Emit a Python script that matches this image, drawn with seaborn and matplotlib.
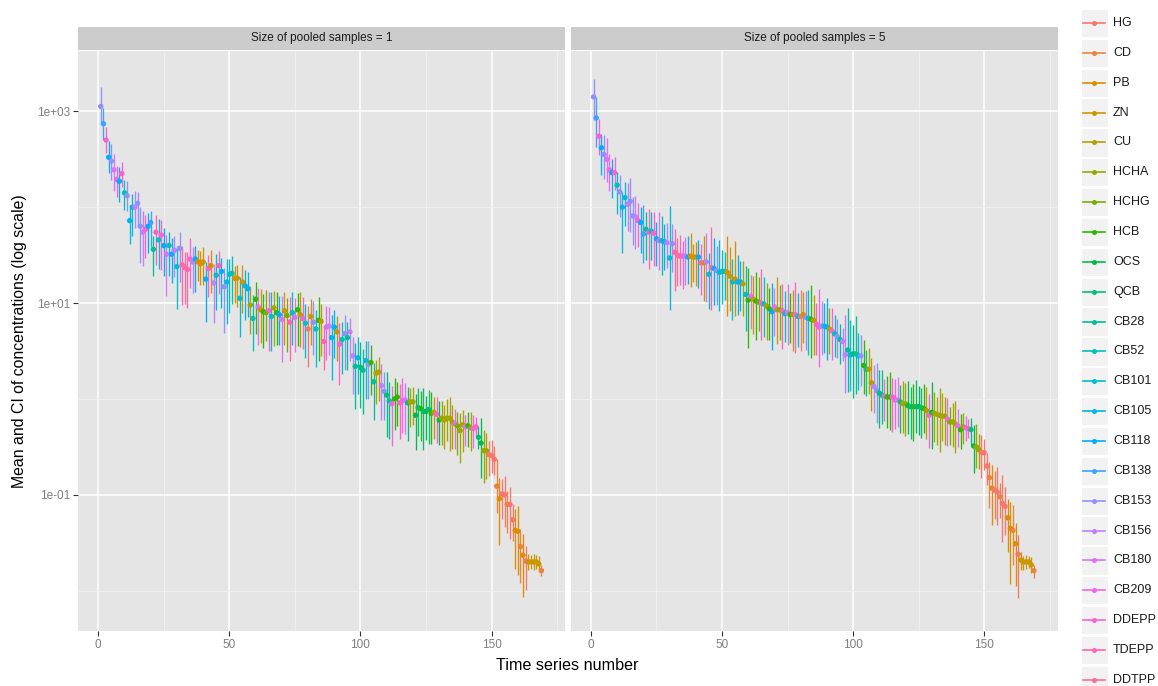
import numpy as np
import pandas as pd
import matplotlib
matplotlib.use("Agg")
import matplotlib.pyplot as plt
from matplotlib.patches import Rectangle
from matplotlib.lines import Line2D
from matplotlib.ticker import FixedLocator, FixedFormatter
import seaborn as sns

# ---------------------------------------------------------------- data
compounds = ["HG", "CD", "PB", "ZN", "CU", "HCHA", "HCHG", "HCB", "OCS", "QCB",
             "CB28", "CB52", "CB101", "CB105", "CB118", "CB138", "CB153",
             "CB156", "CB180", "CB209", "DDEPP", "TDEPP", "DDTPP"]

# compound of each time series, in rank order (shared by both panels)
series_compound = (
    "CB153 CB138 DDEPP CB118 CB153 CB180 CB209 CB118 DDEPP CB52 "
    "CB153 CB105 CB101 CB156 CB153 CB153 CB156 DDEPP CB118 CB138 "
    "CB28 TDEPP CB101 DDEPP CB118 CB180 CB52 CB118 CB156 CB101 "
    "CB153 TDEPP DDTPP TDEPP DDEPP CB156 CB118 PB PB ZN "
    "CB118 DDEPP PB CB156 CB101 TDEPP CB118 CB153 CB101 CB101 "
    "CB52 PB ZN CB101 PB CB105 CB118 CU CB52 HCB "
    "CB180 ZN HCB HCHG DDEPP CB101 CU HCB CB118 CB180 "
    "ZN HCHG TDEPP CB52 CB180 HCB CU DDEPP CB101 HG "
    "ZN CB153 CB101 HCB CU TDEPP CB209 CB156 CB105 CB118 "
    "CU DDEPP CB52 CB153 CB28 CB156 CB156 CB28 CB105 QCB "
    "CB28 CB101 CB153 HCB CB28 CU CU CB156 CB153 QCB "
    "CB28 CB209 HCB HCB DDEPP CB209 CB180 QCB CU HCHA "
    "OCS QCB HCB QCB OCS QCB HCB CU DDEPP OCS "
    "HCHA CU HCHA CU HCHA CB209 HCHG HCHA CU CB180 "
    "HCB HCHA CB209 DDEPP QCB OCS HCHA HCHA HG HG "
    "HG CD PB HG HG CD HG HG PB PB "
    "CD PB HG ZN ZN ZN ZN ZN CD"
).split()

# log10 of the mean concentration, pooled size = 1
log_mean_1 = [
    3.05, 2.87, 2.70, 2.52, 2.48, 2.39, 2.29, 2.27, 2.35, 2.15,
    2.12, 1.86, 2.00, 2.00, 2.04, 1.80, 1.74, 1.77, 1.80, 1.84,
    1.56, 1.74, 1.66, 1.71, 1.60, 1.51, 1.60, 1.51, 1.55, 1.38,
    1.57, 1.40, 1.37, 1.35, 1.46, 1.43, 1.46, 1.43, 1.41, 1.43,
    1.25, 1.36, 1.39, 1.21, 1.29, 1.39, 1.33, 1.17, 1.22, 1.30,
    1.31, 1.26, 1.26, 1.05, 1.22, 1.18, 1.15, 0.98, 0.84, 1.04,
    0.96, 0.93, 0.91, 0.90, 0.92, 0.86, 0.95, 0.90, 0.88, 0.83,
    0.92, 0.87, 0.80, 0.90, 0.85, 0.93, 0.88, 0.84, 0.79, 0.73,
    0.86, 0.80, 0.73, 0.82, 0.81, 0.60, 0.75, 0.76, 0.64, 0.75,
    0.70, 0.57, 0.62, 0.68, 0.64, 0.70, 0.45, 0.34, 0.43, 0.33,
    0.30, 0.40, 0.36, 0.38, 0.18, 0.27, 0.28, 0.14, 0.08, 0.04,
    -0.02, -0.05, 0.00, 0.02, -0.04, -0.02, -0.01, -0.04, -0.03, -0.03,
    -0.17, -0.09, -0.10, -0.13, -0.13, -0.11, -0.15, -0.14, -0.16, -0.22,
    -0.20, -0.22, -0.20, -0.20, -0.24, -0.26, -0.28, -0.33, -0.27, -0.29,
    -0.28, -0.30, -0.31, -0.29, -0.40, -0.46, -0.54, -0.54, -0.58, -0.59,
    -0.63, -0.91, -1.04, -0.99, -1.00, -1.10, -1.10, -1.26, -1.37, -1.38,
    -1.54, -1.63, -1.69, -1.70, -1.70, -1.70, -1.70, -1.72, -1.79]

# upper / lower CI half-lengths in hundredths of a decade, pooled size = 1
ci_up_1 = [
    20, 16, 14, 17, 18, 16, 14, 15, 12, 13, 15, 16, 14, 17, 12, 20, 22, 15, 14, 12,
    14, 18, 22, 16, 18, 20, 14, 17, 15, 22, 17, 20, 16, 18, 22, 15, 14, 12, 13, 15,
    18, 14, 16, 20, 22, 15, 14, 20, 24, 16, 18, 13, 14, 22, 18, 16, 17, 20, 24, 18,
    20, 22, 18, 24, 20, 26, 18, 22, 19, 24, 20, 18, 26, 22, 20, 18, 24, 22, 20, 24,
    18, 22, 20, 24, 18, 16, 22, 20, 24, 18, 16, 22, 18, 20, 16, 14, 20, 24, 22, 26,
    22, 20, 24, 18, 20, 14, 16, 22, 20, 24, 20, 18, 22, 16, 20, 24, 18, 16, 14, 15,
    22, 20, 18, 24, 16, 20, 22, 16, 18, 20, 18, 16, 20, 22, 18, 16, 14, 18, 16, 12,
    14, 16, 14, 10, 12, 26, 22, 18, 14, 16, 14, 28, 22, 16, 20, 14, 18, 16, 22, 26,
    18, 22, 16, 8, 7, 8, 7, 8, 6]
ci_dn_1 = [
    18, 17, 14, 16, 20, 22, 18, 22, 14, 18, 16, 24, 30, 22, 24, 38, 35, 30, 28, 26,
    28, 34, 30, 36, 32, 44, 32, 30, 28, 44, 35, 42, 38, 40, 30, 32, 34, 20, 22, 24,
    45, 30, 28, 42, 36, 30, 38, 48, 44, 40, 32, 26, 30, 40, 32, 36, 30, 30, 34, 36,
    40, 35, 38, 30, 42, 36, 40, 34, 32, 44, 36, 38, 40, 34, 36, 38, 34, 32, 36, 40,
    30, 34, 40, 42, 36, 30, 34, 30, 44, 32, 30, 42, 36, 38, 34, 30, 40, 44, 38, 42,
    46, 40, 36, 34, 40, 32, 30, 36, 30, 44, 40, 44, 32, 30, 38, 34, 36, 40, 26, 24,
    36, 30, 34, 40, 30, 36, 32, 28, 30, 26, 28, 30, 24, 34, 28, 26, 30, 34, 28, 20,
    22, 24, 20, 10, 12, 36, 34, 30, 22, 18, 16, 28, 48, 26, 34, 30, 36, 22, 40, 46,
    38, 44, 30, 8, 7, 8, 7, 8, 6]

# log10 of the mean concentration, pooled size = 5
log_mean_5 = [
    3.15, 2.93, 2.74, 2.62, 2.55, 2.50, 2.39, 2.36, 2.36, 2.23,
    2.16, 2.00, 2.10, 2.03, 2.06, 1.91, 1.90, 1.86, 1.84, 1.72,
    1.77, 1.74, 1.75, 1.73, 1.67, 1.65, 1.65, 1.64, 1.63, 1.47,
    1.62, 1.53, 1.50, 1.49, 1.49, 1.49, 1.48, 1.49, 1.48, 1.48,
    1.48, 1.42, 1.42, 1.43, 1.30, 1.37, 1.36, 1.34, 1.32, 1.33,
    1.33, 1.32, 1.28, 1.22, 1.25, 1.22, 1.22, 1.20, 1.09, 1.03,
    1.07, 1.04, 1.02, 1.01, 1.00, 0.99, 0.97, 0.94, 0.91, 0.96,
    0.93, 0.93, 0.92, 0.89, 0.90, 0.88, 0.88, 0.88, 0.86, 0.86,
    0.88, 0.85, 0.84, 0.83, 0.82, 0.78, 0.75, 0.76, 0.76, 0.75,
    0.73, 0.71, 0.68, 0.65, 0.62, 0.60, 0.46, 0.51, 0.46, 0.47,
    0.47, 0.45, 0.45, 0.35, 0.31, 0.31, 0.17, 0.13, 0.09, 0.06,
    0.04, 0.03, 0.02, 0.02, 0.02, -0.01, -0.01, -0.03, -0.05, -0.05,
    -0.07, -0.08, -0.08, -0.08, -0.08, -0.09, -0.10, -0.12, -0.17, -0.14,
    -0.15, -0.16, -0.17, -0.18, -0.18, -0.21, -0.24, -0.24, -0.26, -0.28,
    -0.32, -0.29, -0.30, -0.31, -0.32, -0.49, -0.50, -0.53, -0.56, -0.56,
    -0.70, -0.82, -0.93, -0.95, -0.97, -1.02, -1.09, -1.12, -1.24, -1.35,
    -1.37, -1.51, -1.62, -1.68, -1.70, -1.70, -1.70, -1.73, -1.79]

ci_up_5 = [
    19, 22, 18, 14, 20, 22, 16, 14, 16, 14, 18, 16, 16, 22, 24, 20, 22, 18, 16, 30,
    18, 24, 20, 22, 18, 30, 26, 18, 20, 54, 20, 24, 18, 22, 16, 20, 22, 24, 14, 16,
    18, 20, 28, 30, 22, 42, 32, 26, 34, 22, 20, 38, 30, 24, 40, 28, 22, 24, 30, 34,
    22, 24, 30, 26, 36, 28, 24, 22, 30, 20, 34, 26, 28, 24, 30, 22, 26, 34, 24, 28,
    24, 28, 30, 36, 26, 22, 40, 26, 24, 30, 22, 24, 20, 18, 16, 14, 42, 44, 36, 30,
    40, 24, 22, 26, 20, 22, 26, 22, 28, 24, 26, 18, 22, 26, 20, 22, 24, 18, 24, 22,
    26, 20, 24, 28, 22, 20, 26, 24, 22, 32, 22, 18, 28, 24, 20, 22, 16, 20, 24, 18,
    16, 14, 12, 10, 12, 22, 24, 16, 18, 14, 14, 16, 24, 20, 26, 14, 30, 20, 20, 28,
    26, 22, 20, 8, 6, 7, 6, 8, 6]
ci_dn_5 = [
    24, 30, 20, 28, 26, 24, 22, 26, 18, 30, 26, 48, 30, 28, 32, 30, 34, 28, 32, 30,
    32, 38, 30, 34, 28, 30, 36, 30, 26, 54, 30, 40, 32, 30, 34, 30, 28, 32, 26, 30,
    32, 34, 40, 42, 36, 44, 38, 36, 40, 34, 30, 46, 36, 40, 38, 34, 30, 34, 38, 50,
    34, 36, 40, 30, 38, 34, 36, 32, 40, 30, 36, 32, 40, 30, 34, 30, 38, 40, 32, 36,
    30, 34, 38, 40, 36, 32, 42, 30, 28, 34, 26, 30, 24, 22, 26, 20, 40, 44, 38, 46,
    42, 36, 32, 30, 28, 26, 30, 28, 34, 36, 30, 26, 32, 34, 36, 30, 28, 32, 30, 34,
    30, 34, 36, 28, 30, 32, 26, 30, 34, 38, 30, 32, 38, 26, 30, 28, 24, 26, 30, 22,
    20, 18, 14, 10, 16, 28, 22, 20, 26, 18, 20, 32, 38, 30, 34, 22, 40, 30, 36, 58,
    36, 44, 46, 10, 8, 7, 6, 8, 8]

pool_sizes = [1, 5]
x_ticks = [0, 50, 100, 150]
x_minor = [25, 75, 125, 175]
y_major = [1e3, 1e1, 1e-1]
y_major_labels = ["1e+03", "1e+01", "1e-01"]
y_minor = [1e2, 1e0, 1e-2]


# ---------------------------------------------------------------- palette
def hcl_hue(h, c=100.0, l=65.0):
    """Polar-Luv colour to sRGB, as used by the default discrete hue scale."""
    h = np.deg2rad(h)
    u, v = c * np.cos(h), c * np.sin(h)
    xn, yn, zn = 95.047, 100.0, 108.883
    den = xn + 15 * yn + 3 * zn
    un, vn = 4 * xn / den, 9 * yn / den
    y = yn * ((l + 16) / 116) ** 3
    up, vp = u / (13 * l) + un, v / (13 * l) + vn
    x = y * 9 * up / (4 * vp)
    z = y * (12 - 3 * up - 20 * vp) / (4 * vp)
    m = np.array([[3.2404542, -1.5371385, -0.4985314],
                  [-0.9692660, 1.8760108, 0.0415560],
                  [0.0556434, -0.2040259, 1.0572252]])
    rgb = m @ (np.array([x, y, z]) / 100.0)
    rgb = np.where(rgb <= 0.0031308, 12.92 * rgb,
                   1.055 * np.clip(rgb, 0, None) ** (1 / 2.4) - 0.055)
    return tuple(np.clip(rgb, 0, 1))


n_comp = len(compounds)
palette = {c: hcl_hue(15 + 360 * i / n_comp) for i, c in enumerate(compounds)}

# ---------------------------------------------------------------- tidy frame
frames = []
for size, lm, cu, cd in [(1, log_mean_1, ci_up_1, ci_dn_1),
                         (5, log_mean_5, ci_up_5, ci_dn_5)]:
    lm = np.array(lm)
    frames.append(pd.DataFrame({
        "pool": size,
        "series": np.arange(1, len(lm) + 1),
        "compound": series_compound,
        "mean": 10 ** lm,
        "lo": 10 ** (lm - np.array(cd) / 100.0),
        "hi": 10 ** (lm + np.array(cu) / 100.0),
    }))
df = pd.concat(frames, ignore_index=True)

# ---------------------------------------------------------------- figure
W, H = 1158, 686
fig = plt.figure(figsize=(W / 100, H / 100), dpi=100)
plt.rcParams["font.family"] = ["Liberation Sans", "DejaVu Sans"]


def px_axes(left, top, right, bottom):
    return fig.add_axes([left / W, 1 - bottom / H, (right - left) / W, (bottom - top) / H])


panel_bg = "#E5E5E5"
strip_bg = "#CCCCCC"
grid_minor = "#F2F2F2"
tick_col = "#7F7F7F"

panels = [(78.3, 565.0), (571.0, 1057.5)]
panel_top, panel_bottom, strip_top = 50.5, 631.0, 26.5

for (left, right), size in zip(panels, pool_sizes):
    ax = px_axes(left, panel_top, right, panel_bottom)
    ax.set_facecolor(panel_bg)
    ax.set_yscale("log")
    ax.set_xlim(-7.6, 178)
    ax.set_ylim(10 ** -2.42, 10 ** 3.634)

    ax.xaxis.set_major_locator(FixedLocator(x_ticks))
    ax.xaxis.set_minor_locator(FixedLocator(x_minor))
    ax.yaxis.set_major_locator(FixedLocator(y_major))
    ax.yaxis.set_minor_locator(FixedLocator(y_minor))
    ax.yaxis.set_major_formatter(FixedFormatter(y_major_labels))
    ax.yaxis.set_minor_formatter(FixedFormatter([""] * len(y_minor)))
    ax.grid(which="major", color="white", lw=1.1)
    ax.grid(which="minor", color=grid_minor, lw=0.55)
    ax.set_axisbelow(True)
    for s in ax.spines.values():
        s.set_visible(False)
    ax.tick_params(which="major", length=3.5, width=0.8, color="#333333",
                   labelcolor=tick_col, labelsize=8.5, pad=2)
    ax.tick_params(which="minor", length=0)
    if size != pool_sizes[0]:
        ax.tick_params(axis="y", which="major", length=0, labelleft=False)

    sub = df[df["pool"] == size]
    cols = [palette[c] for c in sub["compound"]]
    ax.vlines(sub["series"], sub["lo"], sub["hi"], colors=cols, lw=0.95, zorder=2)
    ax.hlines(sub["mean"], sub["series"] - 0.9, sub["series"] + 0.9,
              colors=cols, lw=1.5, zorder=3)
    sns.scatterplot(data=sub, x="series", y="mean", hue="compound",
                    hue_order=compounds, palette=palette, s=15,
                    edgecolor="none", legend=False, ax=ax, zorder=4)
    ax.set_xlabel("")
    ax.set_ylabel("")

    # facet strip
    sax = px_axes(left, strip_top, right, panel_top - 1)
    sax.set_facecolor(strip_bg)
    sax.set_xticks([])
    sax.set_yticks([])
    for s in sax.spines.values():
        s.set_visible(False)
    sax.text(0.5, 0.5, f"Size of pooled samples = {size}", ha="center", va="center",
             fontsize=8.5, color="#1A1A1A", transform=sax.transAxes)

fig.text(567 / W, 1 - 665 / H, "Time series number", ha="center", va="center",
         fontsize=11.6, color="black")
fig.text(20 / W, 1 - 341 / H, "Mean and CI of concentrations (log scale)",
         ha="center", va="center", rotation=90, fontsize=11.4, color="black")

# ---------------------------------------------------------------- legend
lax = fig.add_axes([0, 0, 1, 1])
lax.set_xlim(0, W)
lax.set_ylim(H, 0)
lax.axis("off")
first_y, step = 23.0, 29.86
for i, c in enumerate(compounds):
    yc = first_y + i * step
    lax.add_patch(Rectangle((1080.5, yc - step / 2 + 0.8), 27, step - 1.6,
                            facecolor="#F2F2F2", edgecolor="white", lw=0.8))
    lax.add_line(Line2D([1083, 1105], [yc, yc], color=palette[c], lw=1.2))
    lax.plot([1094], [yc], "o", color=palette[c], ms=3.6, mec="none")
    lax.text(1113, yc, c, ha="left", va="center", fontsize=9, color="#1A1A1A")

fig.savefig("out.png", dpi=100)
